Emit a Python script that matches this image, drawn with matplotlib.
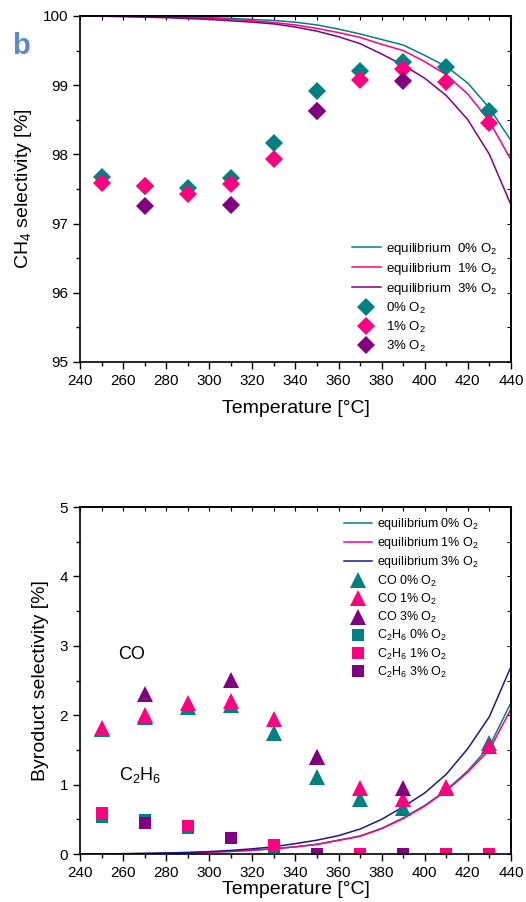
import matplotlib
matplotlib.use("Agg")
import matplotlib.pyplot as plt
from matplotlib.lines import Line2D
from matplotlib.ticker import MultipleLocator

plt.rcParams["font.family"] = ["Liberation Sans", "DejaVu Sans"]
plt.rcParams["mathtext.fontset"] = "custom"
plt.rcParams["mathtext.rm"] = "Liberation Sans"
plt.rcParams["mathtext.it"] = "Liberation Sans"

TEAL = "#008080"
PINK = "#ff0080"
PURPLE = "#800080"
NAVY = "#1a1a8c"

# equilibrium curves (10 degree grid)
eq_temp = [240, 250, 260, 270, 280, 290, 300, 310, 320, 330, 340, 350, 360, 370, 380, 390, 400, 410, 420, 430, 440]
eq_ch4_0 = [100, 99.999, 99.998, 99.995, 99.99, 99.983, 99.975, 99.965, 99.95, 99.935, 99.91, 99.87, 99.81,
            99.74, 99.66, 99.58, 99.43, 99.27, 99.03, 98.67, 98.2]
eq_ch4_1 = [100, 99.998, 99.995, 99.99, 99.985, 99.976, 99.965, 99.95, 99.93, 99.905, 99.87, 99.82, 99.76,
            99.69, 99.59, 99.5, 99.34, 99.15, 98.87, 98.48, 97.92]
eq_ch4_3 = [100, 99.996, 99.99, 99.983, 99.975, 99.963, 99.95, 99.93, 99.91, 99.885, 99.84, 99.78, 99.7,
            99.6, 99.45, 99.29, 99.1, 98.85, 98.5, 98.0, 97.27]
eq_by_0 = [0, 0.001, 0.003, 0.006, 0.01, 0.016, 0.025, 0.038, 0.055, 0.075, 0.105, 0.14, 0.2,
           0.26, 0.37, 0.52, 0.7, 0.92, 1.2, 1.55, 2.18]
eq_by_1 = [0, 0.001, 0.003, 0.006, 0.01, 0.016, 0.025, 0.038, 0.055, 0.075, 0.103, 0.138, 0.196,
           0.255, 0.365, 0.51, 0.69, 0.91, 1.18, 1.5, 2.09]
eq_by_3 = [0, 0.002, 0.005, 0.009, 0.015, 0.024, 0.035, 0.052, 0.075, 0.105, 0.15, 0.2, 0.265,
           0.36, 0.5, 0.68, 0.88, 1.15, 1.52, 1.98, 2.7]

# measurements
temp = [250, 270, 290, 310, 330, 350, 370, 390, 410, 430]
temp_3 = [270, 310, 350, 390]
ch4_0 = [97.67, 97.54, 97.52, 97.66, 98.16, 98.91, 99.21, 99.34, 99.26, 98.62]
ch4_1 = [97.59, 97.54, 97.43, 97.57, 97.94, 98.62, 99.07, 99.23, 99.04, 98.46]
ch4_3 = [97.26, 97.27, 98.62, 99.06]
co_0 = [1.80, 1.97, 2.12, 2.14, 1.75, 1.11, 0.79, 0.67, 0.95, 1.60]
co_1 = [1.82, 2.00, 2.17, 2.20, 1.94, 1.40, 0.95, 0.79, 0.97, 1.56]
co_3 = [2.30, 2.51, 1.40, 0.95]
c2h6_0 = [0.54, 0.49, 0.37, 0.23, 0.10, 0.0, 0.0, 0.0, 0.0, 0.0]
c2h6_1 = [0.59, 0.45, 0.40, 0.23, 0.13, 0.0, 0.0, 0.0, 0.0, 0.0]
c2h6_3 = [0.45, 0.235, 0.0, 0.0]

O2 = r"O$_\mathregular{2}$"
C2H6 = r"C$_\mathregular{2}$H$_\mathregular{6}$"

fig = plt.figure(figsize=(5.26, 9.02), dpi=100)
ax1 = fig.add_axes([0.152, 0.5987, 0.8194, 0.3836])
ax2 = fig.add_axes([0.152, 0.0532, 0.8194, 0.3847])


def style(ax):
    ax.set_xlim(240, 440)
    ax.xaxis.set_major_locator(MultipleLocator(20))
    ax.xaxis.set_minor_locator(MultipleLocator(10))
    ax.yaxis.set_major_locator(MultipleLocator(1))
    ax.yaxis.set_minor_locator(MultipleLocator(0.5))
    ax.tick_params(which="both", direction="out", top=False, right=False, labelsize=11, width=1)
    ax.tick_params(which="major", length=5)
    ax.tick_params(which="minor", length=3)
    sec_x = ax.secondary_xaxis("top")
    sec_x.xaxis.set_major_locator(MultipleLocator(10))
    sec_x.tick_params(direction="in", length=3, labeltop=False)
    sec_y = ax.secondary_yaxis("right")
    sec_y.yaxis.set_major_locator(MultipleLocator(0.5))
    sec_y.tick_params(direction="in", length=3, labelright=False)
    for sp in ax.spines.values():
        sp.set_linewidth(1.2)
    sec_x.spines["top"].set_linewidth(1.2)
    sec_y.spines["right"].set_linewidth(1.2)


def diamond(c):
    return dict(ls="none", marker="D", ms=9.5, color=c, mew=0)


def tri(c):
    return dict(ls="none", marker="^", ms=11, color=c, mew=0)


def sq(c):
    return dict(ls="none", marker="s", ms=8.5, color=c, mew=0)


# top: CH4 selectivity
ax1.plot(eq_temp, eq_ch4_0, color=TEAL, lw=1.1)
ax1.plot(eq_temp, eq_ch4_1, color=PINK, lw=1.1)
ax1.plot(eq_temp, eq_ch4_3, color=PURPLE, lw=1.1)
ax1.plot(temp, ch4_0, **diamond(TEAL))
ax1.plot(temp, ch4_1, **diamond(PINK))
ax1.plot(temp_3, ch4_3, **diamond(PURPLE))
ax1.set_ylim(95, 100)
style(ax1)
ax1.set_xlabel("Temperature [°C]", fontsize=14, labelpad=9)
ax1.set_ylabel(r"CH$_\mathregular{4}$ selectivity [%]", fontsize=14, labelpad=6)

h1 = [Line2D([], [], color=TEAL, lw=1.1), Line2D([], [], color=PINK, lw=1.1),
      Line2D([], [], color=PURPLE, lw=1.1),
      Line2D([], [], **diamond(TEAL)), Line2D([], [], **diamond(PINK)), Line2D([], [], **diamond(PURPLE))]
l1 = ["equilibrium  0% " + O2, "equilibrium  1% " + O2, "equilibrium  3% " + O2,
      "0% " + O2, "1% " + O2, "3% " + O2]
fig.legend(h1, l1, loc="upper left", bbox_to_anchor=(345 / 526, 1 - 234 / 902),
           frameon=False, fontsize=9.5, borderpad=0, handlelength=2.2, handletextpad=0.4,
           labelspacing=0.30)

# panel letter
fig.text(12 / 526, 1 - 32 / 902, "b", fontsize=21, fontweight="bold", color="#5a8bc8",
         family="Liberation Sans", va="top")

# bottom: byproduct selectivity
ax2.plot(eq_temp, eq_by_0, color=TEAL, lw=1.1)
ax2.plot(eq_temp, eq_by_1, color=PINK, lw=1.1)
ax2.plot(eq_temp, eq_by_3, color=NAVY, lw=1.1)
ax2.plot(temp, co_0, **tri(TEAL))
ax2.plot(temp, co_1, **tri(PINK))
ax2.plot(temp_3, co_3, **tri(PURPLE))
ax2.plot(temp, c2h6_0, **sq(TEAL))
ax2.plot(temp, c2h6_1, **sq(PINK))
ax2.plot(temp_3, c2h6_3, **sq(PURPLE))
ax2.set_ylim(0, 5)
style(ax2)
ax2.set_xlabel("Temperature [°C]", fontsize=14, labelpad=1)
ax2.set_ylabel("Byroduct selectivity [%]", fontsize=14, labelpad=8)
ax2.text(264, 2.87, "CO", fontsize=13, ha="center", va="center")
ax2.text(268, 1.14, C2H6, fontsize=13, ha="center", va="center")

h2 = [Line2D([], [], color=TEAL, lw=1.1), Line2D([], [], color=PINK, lw=1.1),
      Line2D([], [], color=NAVY, lw=1.1),
      Line2D([], [], **tri(TEAL)), Line2D([], [], **tri(PINK)), Line2D([], [], **tri(PURPLE)),
      Line2D([], [], **sq(TEAL)), Line2D([], [], **sq(PINK)), Line2D([], [], **sq(PURPLE))]
l2 = ["equilibrium 0% " + O2, "equilibrium 1% " + O2, "equilibrium 3% " + O2,
      "CO 0% " + O2, "CO 1% " + O2, "CO 3% " + O2,
      C2H6 + " 0% " + O2, C2H6 + " 1% " + O2, C2H6 + " 3% " + O2]
fig.legend(h2, l2, loc="upper left", bbox_to_anchor=(338 / 526, 1 - 510 / 902),
           frameon=False, fontsize=9, borderpad=0, handlelength=2.2, handletextpad=0.4,
           labelspacing=0.25)

fig.savefig("out.png", dpi=100)
